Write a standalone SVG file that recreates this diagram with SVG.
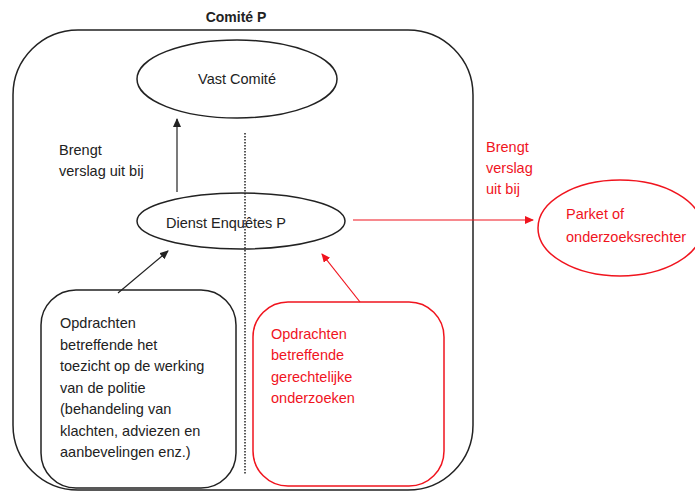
<svg xmlns="http://www.w3.org/2000/svg" width="695" height="493" viewBox="0 0 695 493">
<style>
text{font-family:"Liberation Sans",Arial,sans-serif;font-size:14.5px;fill:#222}
.r{fill:#f0141e}
.k{fill:none;stroke:#222;stroke-width:1.5}
.rs{fill:none;stroke:#f0141e;stroke-width:1.5}
</style>
<defs>
<marker id="ak" markerWidth="10" markerHeight="10" refX="8" refY="4" orient="auto" markerUnits="userSpaceOnUse"><path d="M0,0 L9,4 L0,8 z" fill="#222"/></marker>
<marker id="ar" markerWidth="10" markerHeight="10" refX="8" refY="4" orient="auto" markerUnits="userSpaceOnUse"><path d="M0,0 L9,4 L0,8 z" fill="#f0141e"/></marker>
</defs>
<rect width="695" height="493" fill="#fff"/>
<g id="comite-p">
<rect class="k" x="13" y="30" width="460" height="460" rx="65" ry="65"/>
<text x="236" y="22" text-anchor="middle" font-weight="bold" style="font-size:14px">Comité P</text>
</g>
<g id="vast-comite">
<ellipse class="k" cx="237" cy="79" rx="100" ry="39"/>
<text x="237" y="84" text-anchor="middle">Vast Comité</text>
</g>
<g id="dienst-enquetes">
<ellipse class="k" cx="241" cy="221" rx="104" ry="28"/>
<text x="226" y="228" text-anchor="middle">Dienst Enquêtes P</text>
</g>
<g id="parket">
<ellipse class="rs" cx="620" cy="228" rx="82" ry="48"/>
<text class="r" x="566" y="219">Parket of</text>
<text class="r" x="566" y="242">onderzoeksrechter</text>
</g>
<g id="opdrachten-toezicht">
<rect class="k" x="41" y="290" width="195" height="198" rx="35" ry="35"/>
<text x="60" y="328">Opdrachten</text>
<text x="60" y="350">betreffende het</text>
<text x="60" y="371">toezicht op de werking</text>
<text x="60" y="393">van de politie</text>
<text x="60" y="414">(behandeling van</text>
<text x="60" y="436">klachten, adviezen en</text>
<text x="60" y="457">aanbevelingen enz.)</text>
</g>
<g id="opdrachten-gerechtelijk">
<rect class="rs" x="253" y="302" width="191" height="184" rx="35" ry="35"/>
<text class="r" x="271" y="339">Opdrachten</text>
<text class="r" x="271" y="360">betreffende</text>
<text class="r" x="271" y="382">gerechtelijke</text>
<text class="r" x="271" y="403">onderzoeken</text>
</g>
<g id="connectors">
<line x1="245" y1="133" x2="245" y2="475" stroke="#222" stroke-width="1.5" stroke-dasharray="1.5,1.5"/>
<line x1="177" y1="192" x2="177" y2="119" stroke="#222" stroke-width="1.2" marker-end="url(#ak)"/>
<line x1="118" y1="293" x2="168" y2="251" stroke="#222" stroke-width="1.2" marker-end="url(#ak)"/>
<line x1="353" y1="220" x2="533" y2="220" stroke="#f0141e" stroke-width="1.2" marker-end="url(#ar)"/>
<line x1="360" y1="302" x2="322" y2="254" stroke="#f0141e" stroke-width="1.2" marker-end="url(#ar)"/>
<text x="59" y="155">Brengt</text>
<text x="59" y="176">verslag uit bij</text>
<text class="r" x="486" y="152">Brengt</text>
<text class="r" x="486" y="173">verslag</text>
<text class="r" x="486" y="194">uit bij</text>
</g>
</svg>
